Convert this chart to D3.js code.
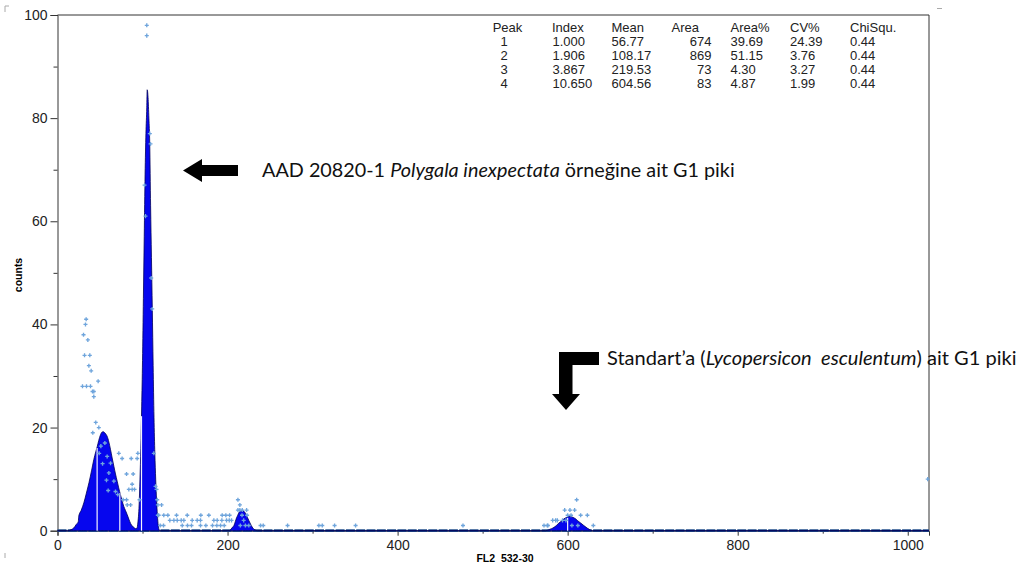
<!DOCTYPE html>
<html>
<head>
<meta charset="utf-8">
<script src="https://cdn.jsdelivr.net/npm/d3@7"></script>
<style>
body { margin: 0; background: #fff; }
svg { display: block; }
</style>
</head>
<body>
<div id="chart"></div>
<script>
// fitted model (blue area) as [channel, counts]
var fitCurve = [
    [0, 0], [12, 0], [16, 0.2], [19, 0.5], [22, 1.2], [24.5, 1.8], [25, 2.8], [28, 4.0], [31, 5.4],
    [34, 7.3], [37, 9.3], [40, 11.6], [42.7, 13.8], [45, 15.3], [46.7, 16.3], [48.5, 17.5],
    [50.6, 18.6], [52.2, 19.1], [53.7, 19.2], [55.5, 19.0], [57, 18.7], [58.4, 18.3], [60.4, 17.2],
    [62.4, 15.7], [64.3, 14.1], [66.3, 12.5], [68.2, 11.0], [70.2, 9.6], [72, 8.3], [74, 7.0],
    [76, 5.8], [78, 4.7], [80, 3.9], [82, 3.1], [84, 2.2], [86, 1.4], [88, 0.9], [90, 0.6],
    [92, 0.4], [93.5, 0.5], [94.5, 1.5], [96, 5], [97, 10], [98, 16], [99, 24], [100, 33],
    [101, 45], [102, 57], [103, 69], [104, 77], [105, 82], [105.5, 85.5], [106.5, 84], [107.5, 80],
    [108.5, 75], [109.5, 63], [110.5, 53], [111.5, 43], [112.5, 32], [113.5, 22], [114.5, 15],
    [115.5, 10], [116.5, 6], [117.5, 3], [118.5, 1], [119.5, 0.2], [121, 0],
    [202, 0], [204, 0.3], [206, 0.7], [207.5, 1.0], [209, 1.7], [210.6, 2.5], [212, 3.0],
    [213.3, 3.5], [215, 3.8], [217.3, 3.9], [219, 3.8], [221, 3.4], [223, 2.7], [225, 2.0],
    [227, 1.3], [229, 0.7], [231, 0.3], [233, 0.1], [235, 0],
    [574, 0], [578, 0.2], [581, 0.4], [584, 0.65], [587, 1.05], [589.8, 1.5], [593, 1.9],
    [595.7, 2.3], [599, 2.6], [602.7, 2.8], [606, 2.6], [609.4, 2.3], [612, 1.9], [615.3, 1.5],
    [619, 1.0], [623, 0.5], [626, 0.2], [629, 0], [1025, 0]
];

// measured histogram counts that are not zero: [channel, counts]
var rawPoints = [
    [33.7, 41], [32.9, 40], [30.6, 38], [35.7, 37], [31.8, 34], [38, 34], [36.9, 32], [39.6, 31],
    [47.8, 29], [29.4, 28], [34.1, 28], [38.8, 28], [41.2, 27], [42.7, 27], [42.7, 26], [45, 21],
    [48.6, 20], [41.5, 19], [51, 16.4], [55.7, 17], [58.4, 14.4], [62.4, 13.1], [60.4, 11.2],
    [66.3, 9.6], [57.6, 9.8], [68.2, 7.6], [59.6, 7.8], [53, 13], [49, 15],
    [72.1, 15], [76, 14], [86.7, 14], [93.7, 14], [94.5, 15], [81.2, 11], [89, 11], [87.8, 9],
    [83.9, 8], [87.8, 8], [90.6, 8], [77.2, 6], [81.2, 6], [70.9, 7], [82, 5], [86, 5], [96.5, 6],
    [105, 98], [105, 96], [108.6, 77], [109.4, 75], [102.4, 67], [103.5, 61], [110.2, 49],
    [111.4, 43], [113.3, 15], [115.3, 8.6], [116.5, 8], [117.3, 6], [118, 5], [118, 3],
    [122.4, 5], [119, 3], [125, 3], [129.8, 3], [140, 3], [152.6, 3], [168.6, 3], [178, 3],
    [193.7, 3], [198, 3], [202.4, 3],
    [132.1, 2], [136.9, 2], [140.8, 2], [145.5, 2], [148.6, 2], [158.4, 2], [164.3, 2], [168.2, 2],
    [183.9, 2], [187.8, 2], [193.3, 2], [198.8, 2], [202, 2], [204.7, 2],
    [120.8, 1], [124.7, 1], [146.7, 1], [152.9, 1], [157.6, 1], [168.2, 1], [174.5, 1], [182.3, 1],
    [187.4, 1], [191.8, 1], [196.1, 1], [238.8, 1], [242, 1], [270.6, 1], [307.4, 1], [311.4, 1],
    [325.9, 1], [350.6, 1], [476.9, 1], [572.2, 1], [576.1, 1],
    [212.2, 6], [214.5, 5], [212.2, 4], [214.5, 4], [217.3, 4], [222.4, 4], [217, 3], [223, 3],
    [219, 2], [221, 1], [215, 1], [225, 1],
    [610.6, 6], [596.5, 4], [602.7, 4], [608.2, 4], [600, 3], [604, 3], [615.3, 3], [623.2, 3],
    [582.4, 2], [585.9, 2], [587.9, 2], [594, 2], [598, 2], [576.8, 1], [630.2, 1], [605, 1],
    [612, 1], [1023.5, 10]
];

// region markers drawn as white lines inside the fill
var markerChannels = [46.6, 73.3, 98.8, 600];

var xTicks = [0, 200, 400, 600, 800, 1000];
var xMinorTicks = [100, 300, 500, 700, 900];
var yTicks = [0, 20, 40, 60, 80, 100];
var yMinorTicks = [10, 30, 50, 70, 90];

// peak statistics table
var tableHeader = ["Peak", "Index", "Mean", "Area", "Area%", "CV%", "ChiSqu."];
var peakNo = ["1", "2", "3", "4"];
var peakIndex = ["1.000", "1.906", "3.867", "10.650"];
var peakMean = ["56.77", "108.17", "219.53", "604.56"];
var peakArea = ["674", "869", "73", "83"];
var peakAreaPct = ["39.69", "51.15", "4.30", "4.87"];
var peakCV = ["24.39", "3.76", "3.27", "1.99"];
var peakChi = ["0.44", "0.44", "0.44", "0.44"];

var W = 1027, H = 570;
var plot = { left: 57.5, right: 929, top: 15, bottom: 530.7 };

var svg = d3.select("#chart").append("svg")
    .attr("width", W)
    .attr("height", H);

var x = d3.scaleLinear().domain([0, 1025]).range([plot.left, plot.right]);
var y = d3.scaleLinear().domain([0, 100]).range([plot.bottom, plot.top]);

var axisFont = "'Liberation Sans', Arial, sans-serif";

// frame (top and right sides)
svg.append("path")
    .attr("d", "M" + plot.left + "," + plot.top + "H" + plot.right + "V" + plot.bottom)
    .attr("fill", "none")
    .attr("stroke", "#333")
    .attr("stroke-width", 1);

// y axis
svg.append("g")
    .attr("transform", "translate(" + plot.left + ",0)")
    .call(d3.axisLeft(y).tickValues(yTicks).tickSize(7).tickPadding(3).tickFormat(d3.format("d")));
svg.append("g")
    .attr("transform", "translate(" + plot.left + ",0)")
    .call(d3.axisLeft(y).tickValues(yMinorTicks).tickSize(4).tickFormat(""))
    .select(".domain").remove();

// x axis
svg.append("g")
    .attr("transform", "translate(0," + plot.bottom + ")")
    .call(d3.axisBottom(x).tickValues(xTicks).tickSize(5).tickPadding(4).tickFormat(d3.format("d")));
svg.append("g")
    .attr("transform", "translate(0," + plot.bottom + ")")
    .call(d3.axisBottom(x).tickValues(xMinorTicks).tickSize(3).tickFormat(""))
    .select(".domain").remove();

svg.selectAll(".tick text")
    .attr("font-family", axisFont)
    .attr("font-size", 14)
    .attr("fill", "#222");
svg.selectAll(".domain, .tick line").attr("stroke", "#333");

// zero counts run along the baseline as a dense row of points
svg.append("line")
    .attr("x1", x(0)).attr("x2", x(1025))
    .attr("y1", y(0)).attr("y2", y(0))
    .attr("stroke", "#24508c")
    .attr("stroke-width", 2.8)
    .attr("stroke-dasharray", "9,1.3");

// fitted model
var area = d3.area()
    .x(function (d) { return x(d[0]); })
    .y0(y(0))
    .y1(function (d) { return y(d[1]); })
    .curve(d3.curveMonotoneX);

svg.append("path")
    .datum(fitCurve)
    .attr("d", area)
    .attr("fill", "#0606ee")
    .attr("stroke", "#00005a")
    .attr("stroke-width", 0.8);

// white region markers, cut at the height of the fill
var bisect = d3.bisector(function (d) { return d[0]; }).left;
function fitAt(c) {
    var i = bisect(fitCurve, c);
    var a = fitCurve[i - 1], b = fitCurve[i];
    return a[1] + (b[1] - a[1]) * (c - a[0]) / (b[0] - a[0]);
}
svg.selectAll(".marker")
    .data(markerChannels)
    .enter()
    .append("line")
    .attr("class", "marker")
    .attr("x1", function (d) { return x(d); })
    .attr("x2", function (d) { return x(d); })
    .attr("y1", y(0))
    .attr("y2", function (d) { return y(fitAt(d)) + 1; })
    .attr("stroke", "#f4f4ff")
    .attr("stroke-width", 1.2);

// raw histogram points
var cross = d3.symbol().type(d3.symbolCross).size(9);
svg.selectAll(".pt")
    .data(rawPoints)
    .enter()
    .append("path")
    .attr("class", "pt")
    .attr("d", cross)
    .attr("transform", function (d) { return "translate(" + x(d[0]) + "," + y(d[1]) + ")"; })
    .attr("fill", "#6fa5dc");

// axis titles
svg.append("text")
    .attr("x", 505).attr("y", 562)
    .attr("text-anchor", "middle")
    .attr("font-family", axisFont)
    .attr("font-size", 10.5)
    .attr("font-weight", "bold")
    .attr("xml:space", "preserve")
    .text("FL2  532-30");

svg.append("text")
    .attr("transform", "translate(22,275) rotate(-90)")
    .attr("text-anchor", "middle")
    .attr("font-family", axisFont)
    .attr("font-size", 10.5)
    .attr("font-weight", "bold")
    .text("counts");

// peak table
var columns = [
    { vals: peakNo, hx: 492.7, vx: 500.5, anchor: "start" },
    { vals: peakIndex, hx: 552, vx: 552.5, anchor: "start" },
    { vals: peakMean, hx: 611.5, vx: 611.5, anchor: "start" },
    { vals: peakArea, hx: 671.5, vx: 711.5, anchor: "end" },
    { vals: peakAreaPct, hx: 730.5, vx: 730.5, anchor: "start" },
    { vals: peakCV, hx: 790, vx: 790, anchor: "start" },
    { vals: peakChi, hx: 850, vx: 850, anchor: "start" }
];
var table = svg.append("g")
    .attr("font-family", axisFont)
    .attr("font-size", 13)
    .attr("fill", "#222");
columns.forEach(function (col, i) {
    table.append("text")
        .attr("x", col.hx).attr("y", 31.5)
        .text(tableHeader[i]);
    col.vals.forEach(function (v, j) {
        table.append("text")
            .attr("x", col.vx).attr("y", 45.5 + j * 14)
            .attr("text-anchor", col.anchor)
            .text(v);
    });
});

// annotations
var noteFont = "Lato, 'Open Sans', sans-serif";

svg.append("path")
    .attr("d", "M183,170.5 L202,159 L202,165 L238,165 L238,176 L202,176 L202,182 Z")
    .attr("fill", "#000");

svg.append("path")
    .attr("d", "M559,352 H599 V365 H572.5 V394 H580 L566,410 L552,394 H559 Z")
    .attr("fill", "#000");

function note(xPos, yPos, parts, targetWidth) {
    var t = svg.append("text")
        .attr("x", xPos).attr("y", yPos)
        .attr("font-family", noteFont)
        .attr("font-size", 17)
        .attr("fill", "#111")
        .attr("xml:space", "preserve");
    parts.forEach(function (p) {
        t.append("tspan")
            .attr("font-style", p[1] ? "italic" : "normal")
            .text(p[0]);
    });
    var w = t.node().getComputedTextLength();
    t.attr("font-size", 17 * targetWidth / w);
}

note(262, 177, [["AAD 20820-1 ", false], ["Polygala inexpectata", true], [" örneğine ait G1 piki", false]], 473);
note(607, 365, [["Standart’a (", false], ["Lycopersicon  esculentum", true], [") ait G1 piki", false]], 410);

// little crop marks at the corners of the original figure
svg.append("path")
    .attr("d", "M5,12 V6 H9 M937,8.5 H942 M5,553 V558")
    .attr("fill", "none")
    .attr("stroke", "#aaa")
    .attr("stroke-width", 1);
</script>
</body>
</html>
